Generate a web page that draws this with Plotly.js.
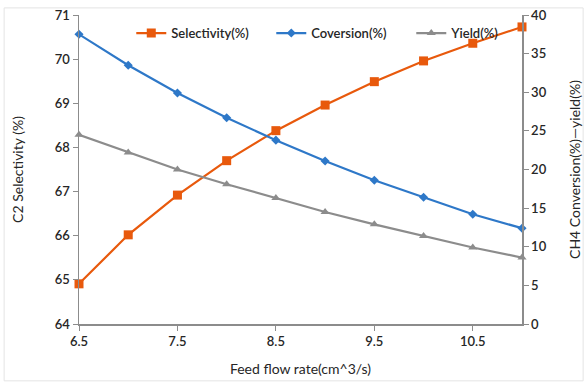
<!DOCTYPE html>
<html>
<head>
<meta charset="utf-8">
<script src="https://cdn.plot.ly/plotly-3.0.1.min.js"></script>
<style>html,body{margin:0;padding:0;background:#fff;}#chart{width:587px;height:385px;}</style>
</head>
<body>
<div id="chart"></div>
<script>
const flowRate = [6.5, 7.0, 7.5, 8.0, 8.5, 9.0, 9.5, 10.0, 10.5, 11.0];
const selectivity = [64.91, 66.02, 66.92, 67.70, 68.38, 68.96, 69.49, 69.96, 70.36, 70.73];
const conversion = [37.5, 33.5, 29.9, 26.7, 23.8, 21.1, 18.6, 16.4, 14.2, 12.4];
const yieldPct = [24.5, 22.2, 20.0, 18.1, 16.3, 14.5, 12.9, 11.4, 9.9, 8.6];
const xTicks = [6.5, 7.5, 8.5, 9.5, 10.5];

const fam = 'Lato, "Open Sans", sans-serif';
const txt = '#262626';
const tickF = {family: fam, size: 13, color: txt, weight: 600};
const titleF = {family: fam, size: 14, color: txt};

const traces = [
  {x: flowRate, y: selectivity, name: 'Selectivity(%)', type: 'scatter', mode: 'lines+markers',
   line: {color: '#E8590C', width: 2.2}, marker: {symbol: 'square', size: 9, color: '#E8590C'},
   cliponaxis: false, yaxis: 'y'},
  {x: flowRate, y: conversion, name: 'Coversion(%)', type: 'scatter', mode: 'lines+markers',
   line: {color: '#2E78C8', width: 2.2}, marker: {symbol: 'diamond', size: 7, color: '#2E78C8'},
   cliponaxis: false, yaxis: 'y2'},
  {x: flowRate, y: yieldPct, name: 'Yield(%)', type: 'scatter', mode: 'lines+markers',
   line: {color: '#8C8C8C', width: 2.2}, marker: {symbol: 'triangle-up', size: 8, color: '#8C8C8C'},
   cliponaxis: false, yaxis: 'y2'}
];

const layout = {
  width: 587, height: 385,
  margin: {l: 79, r: 65, t: 15, b: 61},
  paper_bgcolor: '#fff', plot_bgcolor: '#fff',
  font: {family: fam, size: 13, color: txt},
  showlegend: true,
  legend: {orientation: 'h', x: 0.118, y: 0.99, xanchor: 'left', yanchor: 'top',
           font: {family: fam, size: 13, color: txt, weight: 600}, bgcolor: 'rgba(0,0,0,0)',
           entrywidth: 95, entrywidthmode: 'pixels', tracegroupgap: 0},
  xaxis: {range: [6.5, 11], tickvals: xTicks, ticktext: xTicks.map(v => v.toFixed(1)),
          showgrid: false, zeroline: false, showline: true, linecolor: '#8C8C8C', linewidth: 1.5,
          ticks: 'outside', ticklen: 5, tickcolor: '#8C8C8C', tickfont: tickF,
          title: {text: 'Feed flow rate(cm^3/s)', font: titleF, standoff: 16}},
  yaxis: {range: [64, 71], dtick: 1, showgrid: false, zeroline: false, showline: true,
          linecolor: '#8C8C8C', linewidth: 1.5, ticks: 'outside', ticklen: 5, tickcolor: '#8C8C8C',
          tickfont: tickF,
          title: {text: 'C2 Selectivity (%)', font: titleF, standoff: 28}},
  yaxis2: {range: [0, 40], dtick: 5, overlaying: 'y', side: 'right', showgrid: false, zeroline: false,
           showline: true, linecolor: '#8C8C8C', linewidth: 1.5, ticks: 'outside', ticklen: 5, tickcolor: '#8C8C8C',
           tickfont: tickF,
           title: {text: 'CH4 Conversion(%)—yield(%)', font: titleF, standoff: 24}},
  shapes: [{type: 'rect', xref: 'paper', yref: 'paper', x0: -0.169, x1: 1.138, y0: -0.184, y1: 1.023,
            line: {color: '#E4E4E4', width: 1}, fillcolor: 'rgba(0,0,0,0)', layer: 'below'}]
};

Plotly.newPlot('chart', traces, layout, {displayModeBar: false, staticPlot: true});
</script>
</body>
</html>
